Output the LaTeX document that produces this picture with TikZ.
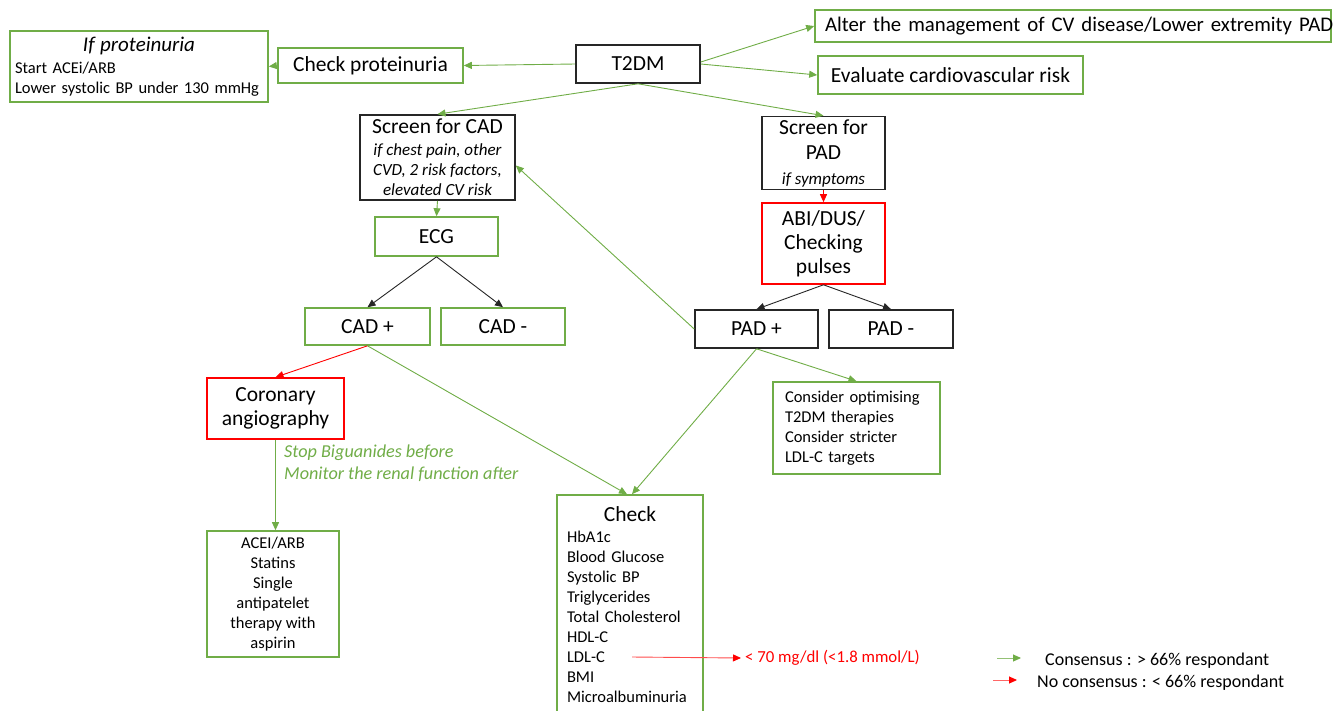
\documentclass[tikz,border=0pt]{standalone}
\usepackage{fontspec}
\setmainfont{Carlito}
\usetikzlibrary{arrows.meta,calc}
\definecolor{gr}{RGB}{112,173,71}
\definecolor{rd}{RGB}{255,0,0}
\newcommand\smit{\fontsize{17}{20}\selectfont\itshape}
\begin{document}
\begin{tikzpicture}[x=1pt,y=-1pt,
  box/.style={draw, line width=1.6pt, inner sep=0pt, align=center, font=\fontsize{21.5}{24}\selectfont},
  gbox/.style={box, draw=gr},
  rbox/.style={box, draw=rd},
  kbox/.style={box, draw=black!85},
  small/.style={font=\fontsize{16.5}{20}\selectfont},
  tip/.style={-{Triangle[length=8pt,width=7pt]}},
  garr/.style={draw=gr, line width=0.9pt, tip},
  rarr/.style={draw=rd, line width=0.9pt, tip},
  karr/.style={draw=black!85, line width=0.9pt, tip},
  lbl/.style={anchor=west, inner sep=0pt, align=left}
]
\useasboundingbox (0,0) rectangle (1333,710);

% boxes
\node[gbox, small, minimum width=258pt, minimum height=71pt, text width=248pt, align=left] (prot) at (139,66.5)
  {\centerline{\fontsize{21}{24}\selectfont\itshape If proteinuria}\\[2pt]Start ACEi/ARB\\Lower systolic BP under 130 mmHg};
\node[gbox, minimum width=185pt, minimum height=35pt] (chk) at (370.5,65.5) {Check proteinuria};
\node[kbox, minimum width=124pt, minimum height=38pt] (t2dm) at (638,64) {T2DM};
\node[gbox, minimum width=516pt, minimum height=32pt, text width=496pt, align=left, font=\fontsize{20.8}{24}\selectfont] (alter) at (1073,26)
  {\mbox{Alter the management of CV disease/Lower extremity PAD}};
\node[gbox, minimum width=265pt, minimum height=38pt] (eval) at (950.5,75) {Evaluate cardiovascular risk};

\node[kbox, minimum width=155pt, minimum height=85pt, font=\fontsize{21.5}{20}\selectfont] (scad) at (437.5,157.5)
  {Screen for CAD\\[2pt]\smit if chest pain, other\\\smit CVD, 2 risk factors,\\\smit elevated CV risk};
\node[kbox, minimum width=123pt, minimum height=73pt, font=\fontsize{21.5}{25}\selectfont] (spad) at (823.5,153)
  {Screen for\\PAD\\\smit if symptoms};
\node[gbox, minimum width=123pt, minimum height=39pt] (ecg) at (436.5,236.5) {ECG};
\node[rbox, minimum width=123pt, minimum height=81pt] (abi) at (823.5,243.5) {ABI/DUS/\\Checking\\pulses};

\node[gbox, minimum width=125pt, minimum height=37pt] (cadp) at (367.5,326.5) {CAD +};
\node[gbox, minimum width=124pt, minimum height=37pt] (cadm) at (503,326.5) {CAD -};
\node[kbox, minimum width=123pt, minimum height=38pt] (padp) at (756.5,329) {PAD +};
\node[kbox, minimum width=124pt, minimum height=38pt] (padm) at (891,329) {PAD -};

\node[rbox, minimum width=137pt, minimum height=61pt] (cor) at (275.5,408.5) {Coronary\\angiography};
\node[gbox, small, minimum width=167pt, minimum height=92pt, text width=143pt, align=left] (cons) at (856.5,428)
  {Consider optimising\\T2DM therapies\\Consider stricter\\LDL-C targets};
\node[gbox, small, minimum width=132pt, minimum height=126pt] (acei) at (273,594)
  {ACEI/ARB\\Statins\\Single\\antipatelet\\therapy with\\aspirin};
\node[gbox, small, minimum width=146pt, minimum height=220pt, text width=126pt, align=left] (check) at (630,605)
  {\centerline{\fontsize{21.5}{24}\selectfont Check}\\[1pt]HbA1c\\Blood Glucose\\Systolic BP\\Triglycerides\\Total Cholesterol\\HDL-C\\LDL-C\\BMI\\Microalbuminuria};

% texts
\node[lbl, text=gr, font=\fontsize{18.2}{22}\selectfont\itshape] (note) at (284,463)
  {Stop Biguanides before\\Monitor the renal function after};
\node[lbl, text=rd, font=\fontsize{16.8}{20}\selectfont] (ldl) at (745,658) {< 70 mg/dl (<1.8 mmol/L)};
\coordinate (ldlstart) at (632,657);

% connectors
\draw[garr] (t2dm.west) -- (chk.east);
\draw[garr] (chk.west) -- (prot.east);
\draw[garr] ([yshift=2pt]t2dm.east) -- (alter.west);
\draw[garr] (t2dm.east) -- (eval.west);
\draw[garr] (t2dm.south) -- (scad.north);
\draw[garr] (t2dm.south) -- (spad.north);
\draw[garr] (scad.south) -- (ecg.north);
\draw[rarr] (spad.south) -- (abi.north);
\draw[karr] (ecg.south) -- (cadp.north);
\draw[karr] (ecg.south) -- (cadm.north);
\draw[karr] (abi.south) -- (padp.north);
\draw[karr] (abi.south) -- (padm.north);
\draw[garr] (padp.west) -- ([yshift=-8pt]scad.east);
\draw[rarr] (cadp.south) -- (cor.north);
\draw[garr] (cadp.south) -- ([xshift=-3pt]check.north);
\draw[garr] (padp.south) -- ([xshift=2pt]check.north);
\draw[garr] (padp.south) -- (cons.north);
\draw[garr] (cor.south) -- (cor.south |- acei.north);
\draw[rarr, draw=rd!70, line width=0.9pt, -{Triangle[length=8pt,width=7pt,fill=rd,color=rd]}] (ldlstart) -- ([xshift=-4pt]ldl.west);

% legend
\coordinate (lga) at (997,658);
\coordinate (lgb) at (1021,658);
\coordinate (lgc) at (993,680);
\coordinate (lgd) at (1017,680);
\draw[garr, draw=gr!75, -{Triangle[length=8pt,width=7pt,color=gr]}] (lga) -- (lgb);
\draw[rarr, draw=rd!60, -{Triangle[length=8pt,width=7pt,color=rd]}] (lgc) -- (lgd);
\node[lbl, font=\fontsize{18}{20}\selectfont] (lg1) at (1045,661) {Consensus : > 66\% respondant};
\node[lbl, font=\fontsize{18}{20}\selectfont] (lg2) at (1037,683) {No consensus : < 66\% respondant};
\end{tikzpicture}
\end{document}
